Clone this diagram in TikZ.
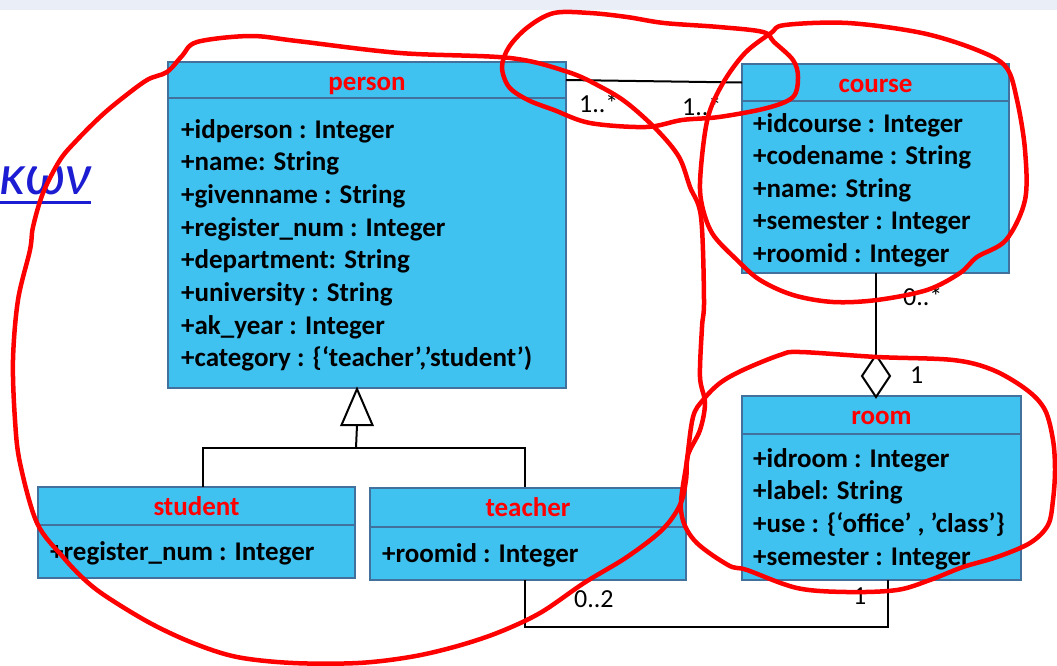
\documentclass[tikz,border=0pt]{standalone}
\usepackage{fontspec}
\setmainfont{Carlito}
\usetikzlibrary{calc}
\definecolor{boxfill}{RGB}{64,194,241}
\definecolor{boxline}{RGB}{65,113,156}
\definecolor{band}{RGB}{233,238,247}
\definecolor{linkblue}{RGB}{28,28,210}
\definecolor{penred}{RGB}{255,0,0}
\begin{document}
\begin{tikzpicture}[x=1pt,y=-1pt,
  cls/.style={draw=boxline, line width=2.4pt, fill=boxfill, inner sep=0pt, outer sep=0pt, anchor=north west},
  hdr/.style={font=\fontsize{27}{27}\selectfont\bfseries, text=penred, anchor=base, inner sep=0pt},
  attr/.style={font=\fontsize{27}{27}\selectfont\bfseries, anchor=base west, inner sep=0pt},
  mult/.style={font=\fontsize{26}{26}\selectfont, anchor=base west, inner sep=0pt},
  conn/.style={draw=black, line width=2pt},
  pen/.style={draw=penred, line width=4.5pt, line cap=round, line join=round}
]
\useasboundingbox (0,0) rectangle (1057,665);
\fill[white] (0,0) rectangle (1057,665);
\fill[band] (0,0) rectangle (1057,10);

% link text fragment
\node[anchor=base west, inner sep=0pt, text=linkblue, font=\fontsize{58}{58}\selectfont\itshape] (link) at (-1,194) {κων};
\draw[linkblue, line width=3pt] ($(link.base west)+(-5,8)$) -- ($(link.base east)+(0,8)$);

% class boxes
\node[cls, minimum width=398pt, minimum height=36pt] (personH) at (168,62) {};
\node[cls, minimum width=398pt, minimum height=290pt] (personB) at (168,98) {};
\node[cls, minimum width=267pt, minimum height=37pt] (courseH) at (742,64) {};
\node[cls, minimum width=267pt, minimum height=172pt] (courseB) at (742,101) {};
\node[cls, minimum width=279pt, minimum height=38pt] (roomH) at (742,396) {};
\node[cls, minimum width=279pt, minimum height=146pt] (roomB) at (742,434) {};
\node[cls, minimum width=317pt, minimum height=38pt] (studentH) at (38,487) {};
\node[cls, minimum width=317pt, minimum height=53pt] (studentB) at (38,525) {};
\node[cls, minimum width=316pt, minimum height=39pt] (teacherH) at (370,488) {};
\node[cls, minimum width=316pt, minimum height=53pt] (teacherB) at (370,527) {};

% headers
\node[hdr] (personT) at (367,90) {person};
\node[hdr] (courseT) at (875.5,92) {course};
\node[hdr] (roomT) at (881.5,424) {room};
\node[hdr] (studentT) at (196.5,515) {student};
\node[hdr] (teacherT) at (528,516) {teacher};

% attributes
\foreach \t [count=\i from 0] in {{+idperson : Integer},{+name: String},{+givenname : String},{+register\_num : Integer},{+department: String},{+university : String},{+ak\_year : Integer},{+category : \{‘teacher’,’student’)}}
  \node[attr] (pa\i) at (181,{138+32.7*\i}) {\t};
\foreach \t [count=\i from 0] in {{+idcourse : Integer},{+codename : String},{+name: String},{+semester : Integer},{+roomid : Integer}}
  \node[attr] (ca\i) at (753,{132+32.5*\i}) {\t};
\foreach \t [count=\i from 0] in {{+idroom : Integer},{+label: String},{+use : \{‘office’ , ’class’\}},{+semester : Integer}}
  \node[attr] (ra\i) at (753,{467+32.7*\i}) {\t};
\node[attr] (sa0) at (50,560) {+register\_num : Integer};
\node[attr] (ta0) at (382,562) {+roomid : Integer};

% association person - course
\draw[conn] (personH.east) -- (courseH.west);
\node[mult] (m1) at (579,112) {1..*};
\node[mult] (m2) at (682,115) {1..*};

% aggregation course - room
\coordinate (cbot) at (876,273);
\coordinate (dtop) at (876,355);
\coordinate (dbot) at (876,397);
\draw[conn] (cbot) -- (dtop);
\draw[conn, fill=white, line join=miter] (dtop) -- (890,376) -- (dbot) -- (862,376) -- cycle;
\node[mult] (m3) at (903,305) {0..*};
\node[mult] (m4) at (910,383) {1};

% generalization
\coordinate (gtip) at (357,389);
\coordinate (gbase) at (357,425);
\coordinate (gj) at (356,448);
\coordinate (sTop) at (203,487);
\coordinate (tTop) at (525,487);
\draw[conn] (gbase) -- (gj);
\draw[conn] (sTop) |- (gj) -| (tTop);
\draw[conn, fill=white, line join=miter] (gtip) -- ($(gbase)+(15.5,0)$) -- ($(gbase)+(-15.5,0)$) -- cycle;

% association teacher - room
\coordinate (tbot) at (525,580);
\coordinate (rbot) at (888,580);
\draw[conn] (tbot) -- ++(0,47) -| (rbot);
\node[mult] (m5) at (574,607) {0..2};
\node[mult] (m6) at (853,604) {1};

% red freehand loops
\draw[pen] plot[smooth cycle, tension=0.55] coordinates {(197,42) (250,36) (297,41) (400,53) (510,58) (568,72) (601,87) (627,103) (657,130) (679,157) (690,187) (701,217) (704,300) (702,327) (700,377) (705,403) (700,430) (688,455) (686,480) (680,505) (662,530) (627,557) (584,583) (540,613) (497,633) (454,647) (410,657) (358,663) (293,663) (237,657) (193,643) (150,623) (107,597) (85,580) (63,557) (37,523) (20,463) (15,420) (13,360) (18,300) (30,250) (33,227) (43,193) (60,160) (77,140) (100,117) (120,100) (147,80) (167,72) (182,56)};
\draw[pen] plot[smooth cycle, tension=0.55] coordinates {(502,67) (509,87) (528,100) (554,110) (590,123) (646,127) (682,120) (719,117) (767,108) (793,97) (798,77) (793,60) (774,42) (763,32) (719,27) (664,23) (627,17) (590,13) (554,13) (528,27) (509,47)};
\draw[pen] plot[smooth cycle, tension=0.55] coordinates {(771,33) (785,25) (848,23) (922,33) (977,50) (1006,67) (1017,100) (1025,150) (1025,200) (1006,240) (977,257) (960,273) (927,290) (877,300) (833,302) (793,295) (760,280) (737,260) (712,233) (701,200) (701,167) (708,117) (723,83) (745,53)};
\draw[pen] plot[smooth cycle, tension=0.55] coordinates {(800,352) (877,357) (953,360) (993,370) (1027,390) (1045,410) (1053,440) (1055,470) (1053,500) (1048,525) (1030,543) (997,557) (963,567) (930,580) (897,590) (847,592) (797,588) (747,570) (728,565) (694,540) (681,510) (687,460) (693,417) (703,400) (720,383) (743,370) (780,355)};
\end{tikzpicture}
\end{document}
